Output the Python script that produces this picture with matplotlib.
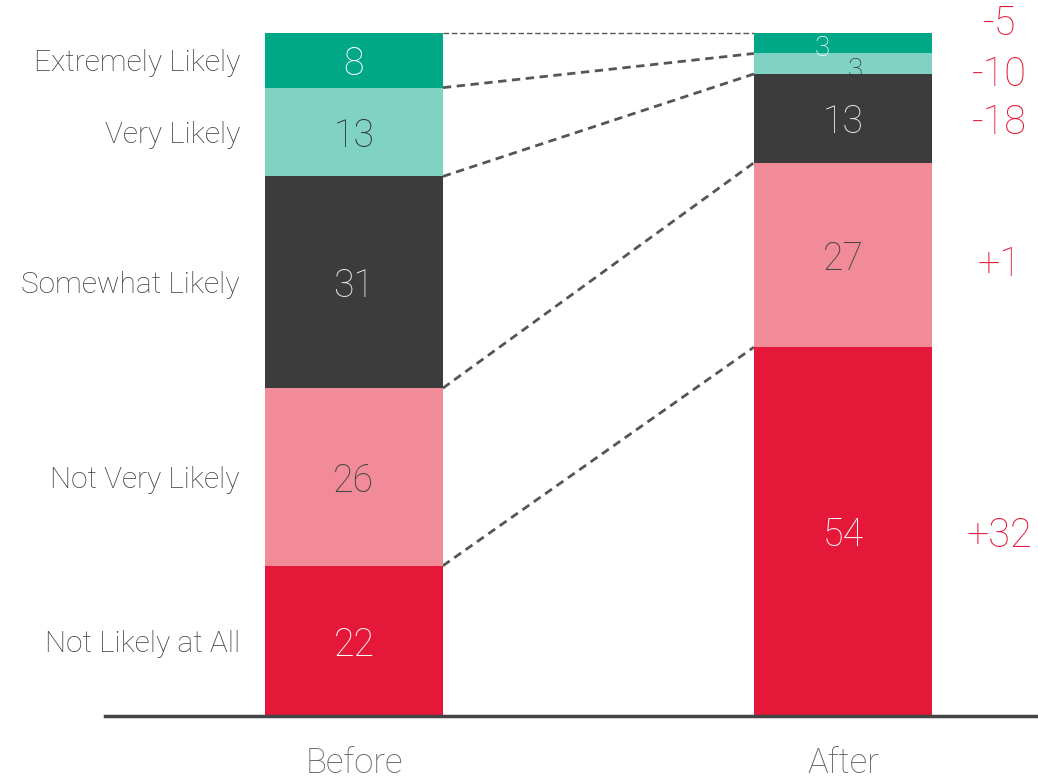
import matplotlib.pyplot as plt
import numpy as np

plt.rcParams["font.family"] = ["Roboto", "DejaVu Sans"]

# data
CATEGORIES = ["Not Likely at All", "Not Very Likely", "Somewhat Likely",
              "Very Likely", "Extremely Likely"]
GROUPS = ["Before", "After"]
BEFORE = [22, 26, 31, 13, 8]
AFTER = [54, 27, 13, 3, 3]
CHANGE = ["+32", "+1", "-18", "-10", "-5"]

COLORS = ["#e5183a", "#f08b97", "#3c3c3c", "#80d3c3", "#00a887"]
TEXT_COLORS = ["white", "#444444", "#e6e6e6", "#333333", "white"]
RED = "#e5183a"

fig = plt.figure(figsize=(10.38, 7.8), dpi=100)
ax = fig.add_axes([105 / 1038, 64 / 780, 933 / 1038, 683 / 780])

x = np.arange(len(GROUPS))
width = 0.364
values = np.array([BEFORE, AFTER])  # shape (group, category)
bottoms = np.zeros(len(GROUPS))
for i in range(len(CATEGORIES)):
    ax.bar(x, values[:, i], width, bottom=bottoms, color=COLORS[i],
           edgecolor="none", zorder=2)
    bottoms += values[:, i]

cum = np.cumsum(values, axis=1)
mid = cum - values / 2

# value labels inside bars
for g in range(len(GROUPS)):
    for i in range(len(CATEGORIES)):
        v = values[g, i]
        xx, yy, fs = x[g], mid[g, i], 27
        if v < 5:
            fs = 20
            # small segments: stagger labels so they do not collide
            xx += -0.043 if i == 4 else 0.025
            yy += -0.3 if i == 4 else -0.6
        ax.text(xx, yy, str(v), ha="center", va="center_baseline", fontsize=fs,
                color=TEXT_COLORS[i], fontweight="light", zorder=4)

# category labels left of the Before bar
for i, cat in enumerate(CATEGORIES):
    ax.text(x[0] - width / 2 - 0.051, mid[0, i], cat, ha="right",
            va="center_baseline", fontsize=21.5, color="#404040",
            fontweight="light")

# dashed connectors between segment boundaries
for i in range(len(CATEGORIES)):
    lw = 1.0 if i == len(CATEGORIES) - 1 else 2.0
    ax.plot([x[0] + width / 2, x[1] - width / 2], [cum[0, i], cum[1, i]],
            linestyle=(0, (3, 2)) if lw > 1 else (0, (4, 2)),
            color="#555555", lw=lw, zorder=1, clip_on=False)

# change labels to the right of the After bar
nudge = [0, -0.8, 0, -1.0, 3.4]
for i, txt in enumerate(CHANGE):
    ax.text(1.32, mid[1, i] + nudge[i], txt, ha="center", va="center_baseline",
            fontsize=28.5, color=RED, fontweight="light", clip_on=False)

ax.set_xlim(-0.509, 1.399)
ax.set_ylim(0, 100)
ax.set_xticks(x)
ax.set_xticklabels(GROUPS, fontsize=25, color="#666666", fontweight="light")
ax.set_yticks([])
ax.tick_params(length=0)
ax.tick_params(axis="x", pad=22)
for s in ["top", "right", "left"]:
    ax.spines[s].set_visible(False)
ax.spines["bottom"].set_color("#444444")
ax.spines["bottom"].set_linewidth(2.5)
ax.spines["bottom"].set_zorder(3)

fig.savefig("out.png", dpi=100)
